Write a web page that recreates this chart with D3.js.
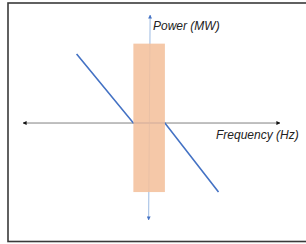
<!DOCTYPE html>
<html>
<head>
<meta charset="utf-8">
<script src="https://cdn.jsdelivr.net/npm/d3@7"></script>
<style>
  body { margin: 0; background: #fff; }
  text { font-family: "Liberation Sans", Arial, sans-serif; font-style: italic; }
</style>
</head>
<body>
<script>
var width = 306;
var height = 244;

// droop curve: frequency deviation vs power
var freq = [-2.3, -0.5, 0.5, 2.2];
var power = [2, 0, 0, -2];
// deadband region
var bandFreq = [-0.5, 0.5];
var bandPower = [-2, 2.3];
var xLabel = 'Frequency (Hz)';
var yLabel = 'Power (MW)';

var svg = d3.select('body')
            .append('svg')
            .attr('width', width)
            .attr('height', height);

var xScale = d3.scaleLinear()
                .domain([-4, 4.15])
                .range([23, 280]);

var yScale = d3.scaleLinear()
                .domain([-2.81, 3.13])
                .range([220, 15]);

// frame
svg.append('rect')
    .attr('x', 8)
    .attr('y', 3)
    .attr('width', 320)
    .attr('height', 238.5)
    .attr('fill', 'none')
    .attr('stroke', '#3a3a3a')
    .attr('stroke-width', 1.6);

var defs = svg.append('defs');
function marker(id, color) {
  defs.append('marker')
      .attr('id', id)
      .attr('viewBox', '0 0 10 10')
      .attr('refX', 9)
      .attr('refY', 5)
      .attr('markerWidth', 4)
      .attr('markerHeight', 4)
      .attr('markerUnits', 'userSpaceOnUse')
      .attr('orient', 'auto-start-reverse')
    .append('path')
      .attr('d', 'M0,0 L10,5 L0,10 z')
      .attr('fill', color);
}
marker('arrK', '#111');
marker('arrB', '#4472c4');

// horizontal axis
svg.append('line')
    .attr('x1', xScale.range()[0])
    .attr('x2', xScale.range()[1])
    .attr('y1', yScale(0))
    .attr('y2', yScale(0))
    .attr('stroke', '#808080')
    .attr('stroke-width', 1)
    .attr('marker-start', 'url(#arrK)')
    .attr('marker-end', 'url(#arrK)');

// vertical axis
svg.append('line')
    .attr('x1', xScale(0) - 0.5)
    .attr('x2', xScale(0) + 1)
    .attr('y1', yScale.range()[0])
    .attr('y2', yScale.range()[1])
    .attr('stroke', '#9dbbe3')
    .attr('stroke-width', 1)
    .attr('marker-start', 'url(#arrB)')
    .attr('marker-end', 'url(#arrB)');

var line = d3.line()
              .x(function (d, i) { return xScale(freq[i]); })
              .y(function (d) { return yScale(d); });

svg.append('path')
    .datum(power)
    .attr('d', line)
    .attr('fill', 'none')
    .attr('stroke', '#4472c4')
    .attr('stroke-width', 1.6);

// deadband
svg.append('rect')
    .attr('x', xScale(bandFreq[0]))
    .attr('y', yScale(bandPower[1]))
    .attr('width', xScale(bandFreq[1]) - xScale(bandFreq[0]))
    .attr('height', yScale(bandPower[0]) - yScale(bandPower[1]))
    .attr('fill', '#f4c09c')
    .attr('opacity', 0.88);

svg.append('text')
    .attr('x', 153)
    .attr('y', 30)
    .attr('font-size', 12)
    .attr('fill', '#222')
    .text(yLabel);

svg.append('text')
    .attr('x', 216)
    .attr('y', 139)
    .attr('font-size', 12)
    .attr('fill', '#222')
    .text(xLabel);
</script>
</body>
</html>
